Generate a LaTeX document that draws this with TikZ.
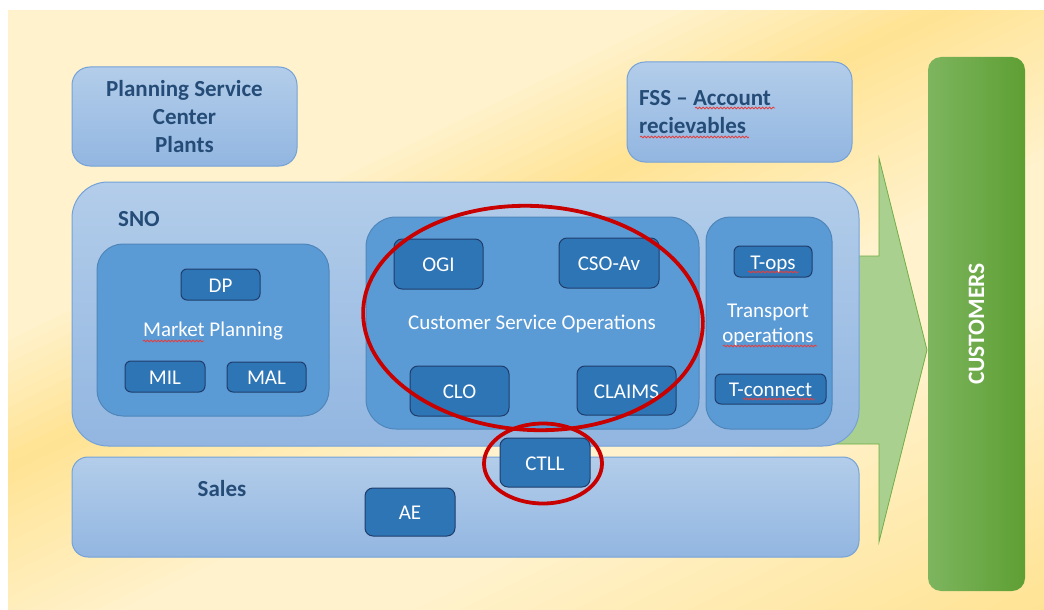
\documentclass[tikz,border=0pt]{standalone}
\usepackage{fontspec}
\setmainfont{Carlito}
\usetikzlibrary{decorations.pathmorphing}
\definecolor{bgY}{HTML}{FFE394}
\definecolor{bgL}{HTML}{FFF2CC}
\definecolor{bigTop}{HTML}{B3CDEA}
\definecolor{bigBot}{HTML}{92B6E1}
\definecolor{bigLine}{HTML}{74A2D8}
\definecolor{midFill}{HTML}{5B9BD5}
\definecolor{midLine}{HTML}{4F86BA}
\definecolor{smFill}{HTML}{2E75B6}
\definecolor{smLine}{HTML}{1F3D6B}
\definecolor{txtBlue}{HTML}{244C77}
\definecolor{redC}{HTML}{C80000}
\definecolor{grL}{HTML}{7DB55F}
\definecolor{grM}{HTML}{6FB241}
\definecolor{grR}{HTML}{5E9F33}
\definecolor{arrFill}{HTML}{A9D08E}
\definecolor{arrLine}{HTML}{70AD47}
\definecolor{squigC}{HTML}{E04040}
\tikzset{
  bigbox/.style={draw=bigLine, line width=1pt, top color=bigTop, bottom color=bigBot, inner sep=0pt},
  midbox/.style={draw=midLine, line width=1pt, fill=midFill, inner sep=0pt},
  smallbox/.style={draw=smLine, line width=1pt, fill=smFill, inner sep=0pt, rounded corners=6pt,
    font=\fontsize{21}{25}\selectfont, text=white, text height=15pt, text depth=0pt},
  boldlbl/.style={font=\fontsize{23}{28}\selectfont\bfseries, text=txtBlue, inner sep=0pt},
  lbl/.style={font=\fontsize{21}{25}\selectfont, text=white, inner sep=0pt, align=center},
  redring/.style={draw=redC, line width=3.8pt},
  squiggle/.style={draw=squigC, line width=0.8pt, decorate, decoration={snake, amplitude=0.9pt, segment length=3.5pt}},
}
\begin{document}
\begin{tikzpicture}[x=1pt, y=-1pt]
\useasboundingbox (0,0) rectangle (1044,610);
% background gradient
\begin{scope}
  \clip (8,11) rectangle (1044,609);
  \begin{scope}[rotate=-64]
    \foreach \q in {-100,-90,...,1200}{
      \pgfmathsetmacro\t{ifthenelse(\q<300,0,ifthenelse(\q<415,(\q-300)/1.15,ifthenelse(\q<600,100-(\q-415)/1.85,ifthenelse(\q<720,0,min(100,(\q-720)/2.8)))))}
      \fill[bgY!\t!bgL] (\q,-1500) rectangle ++(11,3000);
    }
  \end{scope}
\end{scope}
% arrow
\draw[fill=arrFill, draw=arrLine, line width=0.8pt]
  (800,256) -- (879,256) -- (879,158) -- (927,350) -- (879,542) -- (879,444) -- (800,444) -- cycle;
% big boxes
\node[bigbox, rounded corners=18pt, minimum width=225pt, minimum height=99pt] (plan) at (184.5,116.5) {};
\node[bigbox, rounded corners=18pt, minimum width=225pt, minimum height=100pt] (fss) at (739.5,112) {};
\node[bigbox, rounded corners=36pt, minimum width=787pt, minimum height=264pt] (sno) at (465.5,314) {};
\node[bigbox, rounded corners=16pt, minimum width=787pt, minimum height=100pt] (sales) at (465.5,507) {};
\node[draw=none, left color=grL, middle color=grM, right color=grR, rounded corners=13pt,
      minimum width=97pt, minimum height=534pt, inner sep=0pt] (cust) at (976.5,324) {};
\node[rotate=90, font=\fontsize{23.5}{27}\selectfont\bfseries, text=white] (custlbl) at (cust.center) {CUSTOMERS};
% labels of big boxes
\node[boldlbl, align=center] (planlbl) at (184.5,117) {Planning Service\\Center\\Plants};
\node[boldlbl, align=left, anchor=west] (fsslbl) at (639,112.5) {FSS – Account\\recievables};
\node[boldlbl] (snolbl) at (139,219) {SNO};
\node[boldlbl] (saleslbl) at (222,489) {Sales};
% middle boxes
\node[midbox, rounded corners=26pt, minimum width=232pt, minimum height=172pt] (mp) at (213,330) {};
\node[midbox, rounded corners=30pt, minimum width=333pt, minimum height=212pt] (cso) at (532.5,323) {};
\node[midbox, rounded corners=24pt, minimum width=126pt, minimum height=212pt] (tr) at (769,323) {};
\node[lbl] (mplbl) at (213,331) {Market Planning};
\node[lbl] (csolbl) at (532,324) {Customer Service Operations};
\node[lbl] (trlbl) at (768,324.5) {Transport\\operations};
% small boxes
\node[smallbox, minimum width=79pt, minimum height=31pt] (dp) at (220.5,284.5) {DP};
\node[smallbox, minimum width=80pt, minimum height=31pt] (mil) at (165,376.5) {MIL};
\node[smallbox, minimum width=79pt, minimum height=30pt] (mal) at (266.5,377) {MAL};
\node[smallbox, rounded corners=8pt, minimum width=89pt, minimum height=50pt] (ogi) at (438.5,264) {OGI};
\node[smallbox, rounded corners=8pt, minimum width=100pt, minimum height=50pt] (csoav) at (609,263) {CSO-Av};
\node[smallbox, rounded corners=8pt, minimum width=99pt, minimum height=50pt] (clo) at (459.5,391) {CLO};
\node[smallbox, rounded corners=8pt, minimum width=99pt, minimum height=49pt] (claims) at (626.5,390.5) {CLAIMS};
\node[smallbox, minimum width=78pt, minimum height=31pt] (tops) at (773,261.5) {T-ops};
\node[smallbox, minimum width=111pt, minimum height=30pt] (tconn) at (770.5,389) {T-connect};
\node[smallbox, rounded corners=8pt, minimum width=90pt, minimum height=48pt] (ae) at (410,512) {AE};
\node[smallbox, rounded corners=8pt, minimum width=90pt, minimum height=49pt] (ctll) at (545,462.5) {CTLL};
% spell-check squiggles
\draw[squiggle] (143,341) -- (204,341);
\draw[squiggle] (695,108) -- (775,108);
\draw[squiggle] (640,137) -- (749,137);
\draw[squiggle] (748,272) -- (799,272);
\draw[squiggle] (723,346) -- (817,346);
\draw[squiggle] (743,399) -- (815,399);
% red rings
\draw[redring] (533,318) ellipse [x radius=170, y radius=112, rotate=-3];
\draw[redring] (543,463.5) ellipse [x radius=59, y radius=40];
\end{tikzpicture}
\end{document}
